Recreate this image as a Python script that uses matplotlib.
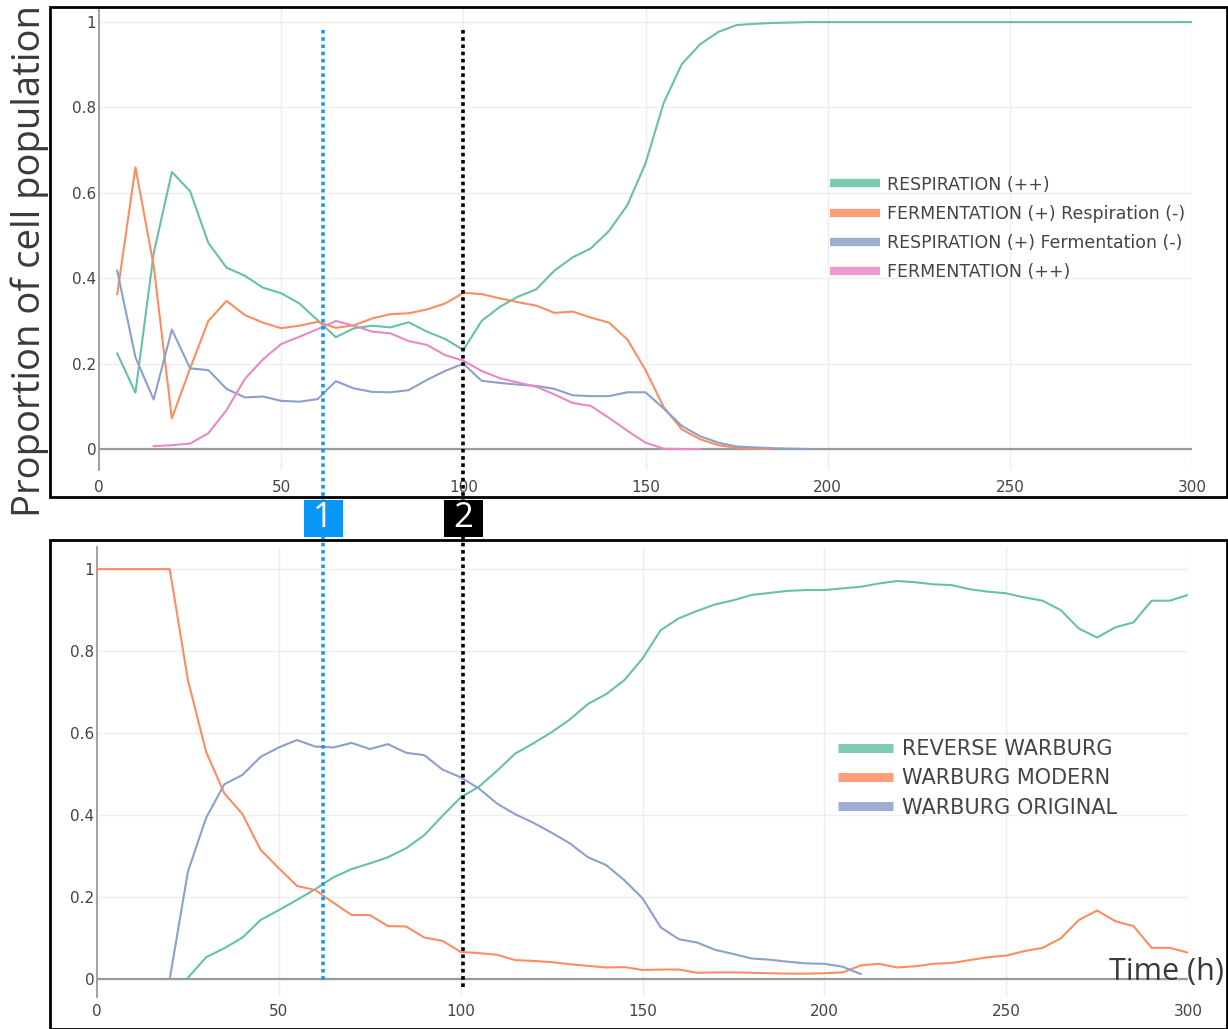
import matplotlib
matplotlib.use("Agg")
import matplotlib.pyplot as plt
import matplotlib.transforms as mtransforms
from matplotlib.patches import Rectangle
from matplotlib.lines import Line2D

# ---------------- data ----------------
TIME_TOP = list(range(5, 305, 5))
RESP_PP = [0.224, 0.132, 0.458, 0.649, 0.604, 0.483, 0.425, 0.406, 0.378, 0.365,
           0.341, 0.302, 0.262, 0.283, 0.289, 0.285, 0.297, 0.275, 0.258, 0.232,
           0.300, 0.333, 0.357, 0.374, 0.418, 0.449, 0.470, 0.511, 0.571, 0.669,
           0.811, 0.902, 0.948, 0.977, 0.993, 0.996, 0.998, 0.999, 1.0, 1.0,
           1.0, 1.0, 1.0, 1.0, 1.0, 1.0, 1.0, 1.0, 1.0, 1.0,
           1.0, 1.0, 1.0, 1.0, 1.0, 1.0, 1.0, 1.0, 1.0, 1.0]
TIME_FERM_RESP = list(range(5, 190, 5))
FERM_P_RESP_M = [0.363, 0.660, 0.430, 0.072, 0.189, 0.300, 0.347, 0.314, 0.296, 0.283,
                 0.289, 0.298, 0.284, 0.290, 0.306, 0.316, 0.318, 0.327, 0.341, 0.366,
                 0.363, 0.353, 0.344, 0.336, 0.319, 0.322, 0.308, 0.296, 0.257, 0.185,
                 0.098, 0.046, 0.023, 0.009, 0.003, 0.001, 0.0]
TIME_RESP_FERM = list(range(5, 200, 5))
RESP_P_FERM_M = [0.418, 0.215, 0.116, 0.280, 0.189, 0.185, 0.141, 0.121, 0.123, 0.113,
                 0.111, 0.117, 0.159, 0.142, 0.134, 0.133, 0.138, 0.162, 0.183, 0.200,
                 0.160, 0.155, 0.151, 0.148, 0.141, 0.126, 0.124, 0.124, 0.133, 0.133,
                 0.095, 0.054, 0.030, 0.015, 0.006, 0.004, 0.002, 0.001, 0.0]
TIME_FERM_PP = list(range(15, 170, 5))
FERM_PP = [0.007, 0.009, 0.013, 0.037, 0.091, 0.164, 0.210, 0.246, 0.263, 0.281,
           0.300, 0.289, 0.275, 0.271, 0.253, 0.244, 0.220, 0.207, 0.183, 0.166,
           0.156, 0.146, 0.128, 0.108, 0.101, 0.073, 0.043, 0.015, 0.001, 0.0, 0.0]

TIME_REV = list(range(25, 305, 5))
REVERSE_WARBURG = [0.003, 0.053, 0.075, 0.101, 0.144, 0.168, 0.193, 0.219, 0.248, 0.268,
                   0.282, 0.297, 0.319, 0.351, 0.398, 0.443, 0.469, 0.508, 0.550, 0.575,
                   0.602, 0.633, 0.671, 0.695, 0.729, 0.782, 0.851, 0.880, 0.898, 0.914,
                   0.924, 0.937, 0.942, 0.947, 0.949, 0.949, 0.953, 0.957, 0.965, 0.971,
                   0.968, 0.963, 0.961, 0.951, 0.945, 0.941, 0.931, 0.923, 0.900, 0.855,
                   0.833, 0.858, 0.870, 0.923, 0.923, 0.937]
TIME_MOD = list(range(0, 305, 5))
WARBURG_MODERN = [1.0, 1.0, 1.0, 1.0, 1.0, 0.729, 0.554, 0.453, 0.402, 0.315,
                  0.270, 0.227, 0.217, 0.186, 0.156, 0.156, 0.129, 0.128, 0.101, 0.093,
                  0.066, 0.063, 0.059, 0.046, 0.044, 0.041, 0.036, 0.032, 0.028, 0.029,
                  0.022, 0.023, 0.023, 0.015, 0.016, 0.016, 0.015, 0.014, 0.013, 0.013,
                  0.014, 0.016, 0.033, 0.037, 0.028, 0.031, 0.037, 0.039, 0.046, 0.053,
                  0.057, 0.068, 0.076, 0.099, 0.144, 0.167, 0.141, 0.129, 0.076, 0.076,
                  0.064]
TIME_ORIG = list(range(20, 215, 5))
WARBURG_ORIGINAL = [0.0, 0.262, 0.393, 0.475, 0.498, 0.542, 0.565, 0.583, 0.567, 0.565,
                    0.576, 0.561, 0.573, 0.552, 0.546, 0.511, 0.492, 0.465, 0.428, 0.402,
                    0.381, 0.357, 0.331, 0.297, 0.278, 0.241, 0.197, 0.126, 0.097, 0.089,
                    0.071, 0.061, 0.050, 0.047, 0.042, 0.038, 0.037, 0.030, 0.012]

LABELS_TOP = ["RESPIRATION (++)", "FERMENTATION (+) Respiration (-)",
              "RESPIRATION (+) Fermentation (-)", "FERMENTATION (++)"]
LABELS_BOT = ["REVERSE WARBURG", "WARBURG MODERN", "WARBURG ORIGINAL"]
X_TICKS = [0, 50, 100, 150, 200, 250, 300]
Y_TICKS = [0, 0.2, 0.4, 0.6, 0.8, 1]
Y_TICK_LABELS = ["0", "0.2", "0.4", "0.6", "0.8", "1"]
MARKER_TIMES = [61.5, 100]
MARKER_LABELS = ["1", "2"]

GREEN, ORANGE, BLUE, PINK = "#66c2a5", "#fc8d62", "#8da0cb", "#e78ac3"

W, H = 1228, 1029
plt.rcParams["font.family"] = ["DejaVu Sans"]
fig = plt.figure(figsize=(W / 100, H / 100), dpi=100)


def fx(px):
    return px / W


def fy(py):
    return 1 - py / H


def style_axes(ax, ylim, pad):
    ax.set_xlim(0, 300)
    ax.set_ylim(*ylim)
    for s in ["top", "right", "bottom"]:
        ax.spines[s].set_visible(False)
    ax.spines["left"].set_color("#9a9a9a")
    ax.spines["left"].set_linewidth(1.3)
    ax.set_xticks(X_TICKS)
    ax.set_yticks(Y_TICKS)
    ax.set_yticklabels(Y_TICK_LABELS)
    ax.tick_params(length=0, labelsize=11, colors="#444444")
    ax.tick_params(axis="x", pad=pad)
    ax.tick_params(axis="y", pad=2)
    ax.grid(True, color="#eeeeee", lw=1)
    ax.set_axisbelow(True)
    ax.axhline(0, color="#9a9a9a", lw=1.6, zorder=1)


# top axes
ax1 = fig.add_axes([fx(99), fy(470), fx(1192 - 99), (470 - 8) / H])
style_axes(ax1, (-0.049, 1.033), 7)
ax1.plot(TIME_TOP, RESP_PP, color=GREEN, lw=1.5)
ax1.plot(TIME_FERM_RESP, FERM_P_RESP_M, color=ORANGE, lw=1.5)
ax1.plot(TIME_RESP_FERM, RESP_P_FERM_M, color=BLUE, lw=1.5)
ax1.plot(TIME_FERM_PP, FERM_PP, color=PINK, lw=1.5)

# bottom axes
ax2 = fig.add_axes([fx(97), fy(997), fx(1188 - 97), (997 - 547) / H])
style_axes(ax2, (-0.044, 1.054), 5)
ax2.plot(TIME_REV, REVERSE_WARBURG, color=GREEN, lw=1.5)
ax2.plot(TIME_MOD, WARBURG_MODERN, color=ORANGE, lw=1.5)
ax2.plot(TIME_ORIG, WARBURG_ORIGINAL, color=BLUE, lw=1.5)


def leg_handles(colors, lw):
    return [Line2D([], [], color=c, lw=lw, alpha=0.85, solid_capstyle="butt") for c in colors]


fig.legend(leg_handles([GREEN, ORANGE, BLUE, PINK], 6), LABELS_TOP,
           loc="upper left", bbox_to_anchor=(fx(830), fy(175.5)),
           frameon=False, fontsize=12.5, handlelength=2.9, handletextpad=0.4,
           labelspacing=0.65, borderpad=0, borderaxespad=0, labelcolor="#444444")
fig.legend(leg_handles([GREEN, ORANGE, BLUE], 6.5), LABELS_BOT,
           loc="upper left", bbox_to_anchor=(fx(838), fy(739)),
           frameon=False, fontsize=15, handlelength=2.65, handletextpad=0.42,
           labelspacing=0.45, borderpad=0, borderaxespad=0, labelcolor="#444444")

# frames
fig.add_artist(Rectangle((fx(50), fy(497)), fx(1227 - 50), (497 - 7) / H,
                         transform=fig.transFigure, fill=False, ec="black", lw=2))
fig.add_artist(Rectangle((fx(50), fy(1029)), fx(1227 - 50), (1029 - 540) / H,
                         transform=fig.transFigure, fill=False, ec="black", lw=2))

# vertical dotted markers spanning both panels
trans = mtransforms.blended_transform_factory(ax1.transData, fig.transFigure)
marker_colors = ["#1e96f0", "black"]
marker_ends = [983, 990]
for t, c, ye in zip(MARKER_TIMES, marker_colors, marker_ends):
    fig.add_artist(Line2D([t, t], [fy(30), fy(ye)], transform=trans, color=c,
                          lw=2.6, ls=(0, (1, 1)), zorder=5))

# numbered boxes
box_colors = ["#0a96f5", "black"]
for t, lab, c in zip(MARKER_TIMES, MARKER_LABELS, box_colors):
    xc = trans.transform((t, 0))[0]
    xfig = fig.transFigure.inverted().transform((xc, 0))[0]
    fig.add_artist(Rectangle((xfig - fx(19.5), fy(537)), fx(39), 37 / H,
                             transform=fig.transFigure, fc=c, ec="none", zorder=6))
    fig.text(xfig, fy(518), lab, color="white", fontsize=25, ha="center",
             va="center", zorder=7, family=["Open Sans", "DejaVu Sans"])

fig.text(fx(30), fy(261), "Proportion of cell population", rotation=90,
         ha="center", va="center", fontsize=27.5, color="#3a3a3a",
         family=["Open Sans", "DejaVu Sans"])
fig.text(fx(1224), fy(980), "Time (h)", ha="right", va="baseline",
         fontsize=22, color="#3a3a3a", family=["Open Sans", "DejaVu Sans"])

fig.savefig("out.png", dpi=100)
